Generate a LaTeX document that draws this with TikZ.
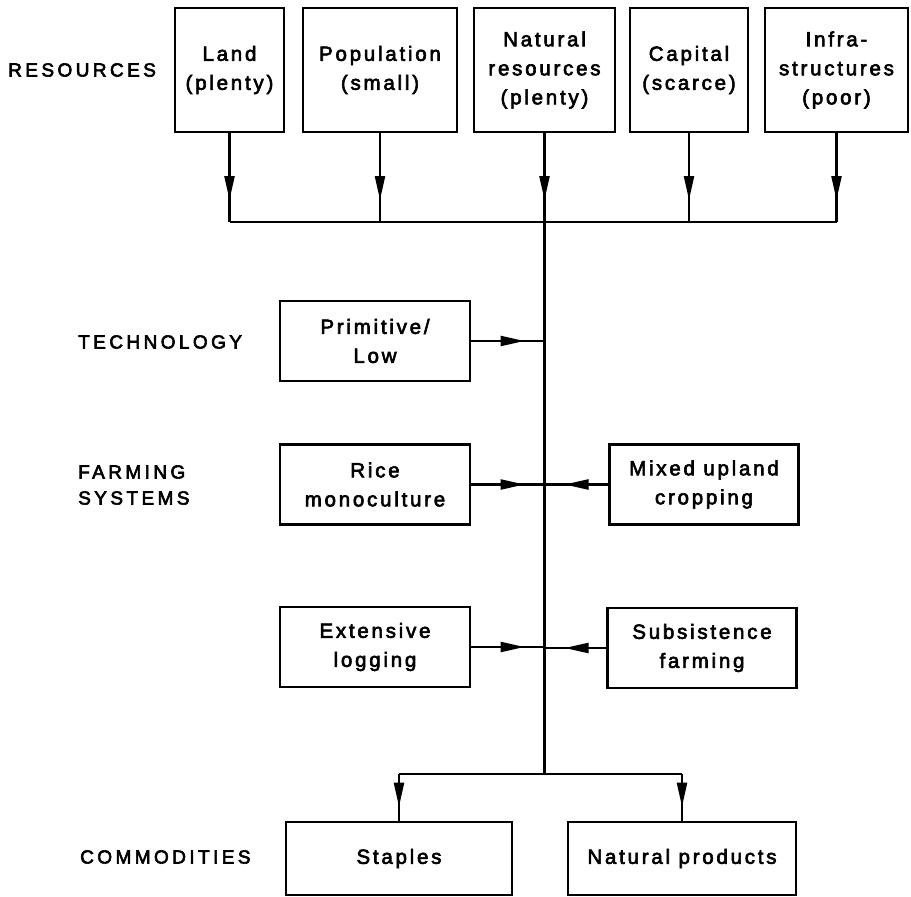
\documentclass[tikz,border=0pt]{standalone}
\usepackage{fontspec}
\setmainfont{Liberation Sans}
\newfontfamily\boxfont[LetterSpace=13.5,FakeBold=3]{Liberation Sans}
\newfontfamily\labelfont[LetterSpace=18,FakeBold=3.2]{Liberation Sans}
\usetikzlibrary{arrows.meta,decorations.markings,calc}

\begin{document}
\begin{tikzpicture}[x=1pt,y=-1pt,
  stagebox/.style={draw, line width=2.6pt, inner sep=0pt, align=center,
    font=\boxfont\fontsize{20.5}{29}\selectfont},
  rowlabel/.style={anchor=west, inner sep=0pt, align=left,
    font=\labelfont\fontsize{19}{26}\selectfont},
  link/.style={line width=2.3pt},
  tipat/.style={postaction={decorate}, decoration={markings,
    mark=at position -#1 with {\arrow{Triangle[length=24pt,width=10pt]}}}},
]
\useasboundingbox (0,0) rectangle (911,897);

% row labels
\node[rowlabel] (lres)  at (8,70)   {RESOURCES};
\node[rowlabel] (ltech) at (78,342) {TECHNOLOGY};
\node[rowlabel] (lfarm) at (78,485) {FARMING\\SYSTEMS};
\node[rowlabel] (lcomm) at (80,857) {COMMODITIES};

% resources
\node[stagebox, minimum width=109pt, minimum height=124pt] (land)  at (229.5,70) {Land\\(plenty)};
\node[stagebox, minimum width=154pt, minimum height=124pt] (pop)   at (380,70)   {Population\\(small)};
\node[stagebox, minimum width=141pt, minimum height=124pt] (nat)   at (544.5,70) {Natural\\resources\\(plenty)};
\node[stagebox, minimum width=118pt, minimum height=124pt] (cap)   at (689,70)   {Capital\\(scarce)};
\node[stagebox, minimum width=143pt, minimum height=124pt] (infra) at (836.5,70) {Infra-\\structures\\(poor)};

% technology and farming systems
\node[stagebox, minimum width=190pt, minimum height=80pt] (prim)  at (375,341)   {Primitive/\\Low};
\node[stagebox, minimum width=190pt, minimum height=80pt] (rice)  at (375,484.5) {Rice\\monoculture};
\node[stagebox, minimum width=189pt, minimum height=80pt] (mixed) at (704,484.5) {Mixed upland\\cropping};
\node[stagebox, minimum width=190pt, minimum height=80pt] (logg)  at (375,647)   {Extensive\\logging};
\node[stagebox, minimum width=189pt, minimum height=80pt] (subs)  at (702,648)   {Subsistence\\farming};

% commodities
\node[stagebox, minimum width=226pt, minimum height=73pt] (stap) at (399,858.5) {Staples};
\node[stagebox, minimum width=228pt, minimum height=73pt] (natp) at (682,858.5) {Natural products};

% collecting bus and trunk
\coordinate (bus) at (544.5,222);
\coordinate (split) at (544.5,774);
\foreach \n in {land,pop,nat,cap,infra}
  \draw[link, tipat=22pt] (\n.south) -- (\n.south |- bus);
\draw[link] (land.south |- bus) -- (infra.south |- bus);
\draw[link] (bus) -- (split);

% inputs joining the trunk
\draw[link, tipat=20pt] (prim.east)  -- (prim.east -| bus);
\draw[link, tipat=20pt] (rice.east)  -- (rice.east -| bus);
\draw[link, tipat=20pt] (mixed.west) -- (mixed.west -| bus);
\draw[link, tipat=20pt] (logg.east)  -- (logg.east -| bus);
\draw[link, tipat=20pt] (subs.west)  -- (subs.west -| bus);

% split to commodities
\draw[link] (stap.north |- split) -- (natp.north |- split);
\draw[link, tipat=14pt] (stap.north |- split) -- (stap.north);
\draw[link, tipat=14pt] (natp.north |- split) -- (natp.north);
\end{tikzpicture}
\end{document}
